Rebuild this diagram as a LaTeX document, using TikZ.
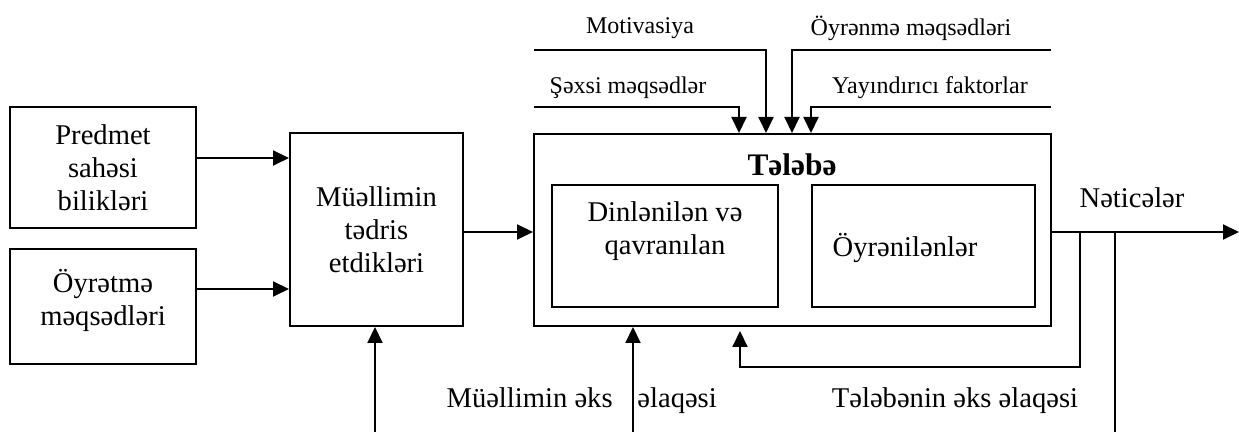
\documentclass[tikz,border=0pt]{standalone}
\usepackage{fontspec}
\setmainfont{Liberation Serif}
\usetikzlibrary{arrows.meta}
\begin{document}
\begin{tikzpicture}
	  [
	    x                   = 0.5pt,
	    y                   = -0.5pt,
	    every node/.style   = {font=\fontsize{14.3}{16.5}\selectfont, inner sep=0pt, align=center},
	    blok/.style         = {draw, line width=1pt},
	    ust/.style          = {font=\fontsize{12}{14}\selectfont},
	    ox/.style           = {line width=1pt, -{Triangle[length=8pt,width=7.5pt]}},
	    xett/.style         = {line width=1pt}
	  ]
	  \useasboundingbox (0,0) rectangle (1239,432);
	  % sol bloklar
	  \node[blok, minimum width=93pt, minimum height=60.5pt] (predmet) at (103,167.5)
	    {Predmet\\sahəsi\\bilikləri};
	  \node[blok, minimum width=93pt, minimum height=57.5pt] (oyretme) at (103,306.5) {};
	  \node (oyretmetxt) at (103,300) {Öyrətmə\\məqsədləri};
	  \node[blok, minimum width=86.5pt, minimum height=96.5pt] (muellim) at (376.5,229.5)
	    {Müəllimin\\tədris\\etdikləri};
	  % Tələbə bloku
	  \node[blok, minimum width=258.5pt, minimum height=96pt] (telebe) at (792.5,230) {};
	  \node[font=\fontsize{15.7}{18}\selectfont\bfseries] (telebetxt) at (792,165) {Tələbə};
	  \node[blok, minimum width=113pt, minimum height=61pt] (dinlenilen) at (665,246) {};
	  \node (dinlenilentxt) at (665,231) {Dinlənilən və\\qavranılan};
	  \node[blok, minimum width=111.5pt, minimum height=61pt] (oyrenilen) at (923.5,246) {};
	  \node (oyrenilentxt) at (905,248) {Öyrənilənlər};
	  % yazılar
	  \node[ust] (motivasiya) at (640,28) {Motivasiya};
	  \node[ust] (oyrenme) at (911,28) {Öyrənmə məqsədləri};
	  \node[ust] (sexsi) at (628,88) {Şəxsi məqsədlər};
	  \node[ust] (yayindirici) at (930,88) {Yayındırıcı faktorlar};
	  \node (neticeler) at (1132,198) {Nəticələr};
	  \node[anchor=base east] (muellimeks) at (613,408) {Müəllimin əks};
	  \node[anchor=base west] (elaqesi) at (637,408) {əlaqəsi};
	  \node[anchor=base] (telebeeks) at (955,408) {Tələbənin əks əlaqəsi};
	  % serbest uclar
	  \coordinate (motA) at (534,50);
	  \coordinate (oyrA) at (1051,50);
	  \coordinate (sexA) at (534,107);
	  \coordinate (yayA) at (1051,107);
	  \coordinate (netice) at (1239,232);
	  \coordinate (alt1) at (375,432);
	  \coordinate (alt2) at (633,432);
	  \coordinate (alt3) at (1115,432);
	  \coordinate (geri) at (1080,232);
	  % oxlar
	  \draw[ox] (predmet.east |- 0,158) -- (muellim.west |- 0,158);
	  \draw[ox] (oyretme.east |- 0,289) -- (muellim.west |- 0,289);
	  \draw[ox] (muellim.east |- 0,232) -- (telebe.west |- 0,232);
	  \draw[ox] (alt1) -- (alt1 |- muellim.south);
	  \draw[ox] (motA) -| (766,0 |- telebe.north);
	  \draw[ox] (oyrA) -| (792,0 |- telebe.north);
	  \draw[ox] (sexA) -| (739,0 |- telebe.north);
	  \draw[ox] (yayA) -| (811,0 |- telebe.north);
	  \draw[ox] (telebe.east |- 0,232) -- (netice);
	  \draw[ox] (alt2) -- (alt2 |- telebe.south);
	  \draw[ox, shorten >=2pt] (geri) -- (1080,367) -| (740,0 |- telebe.south);
	  \draw[xett] (alt3) -- (alt3 |- netice);
\end{tikzpicture}
\end{document}
